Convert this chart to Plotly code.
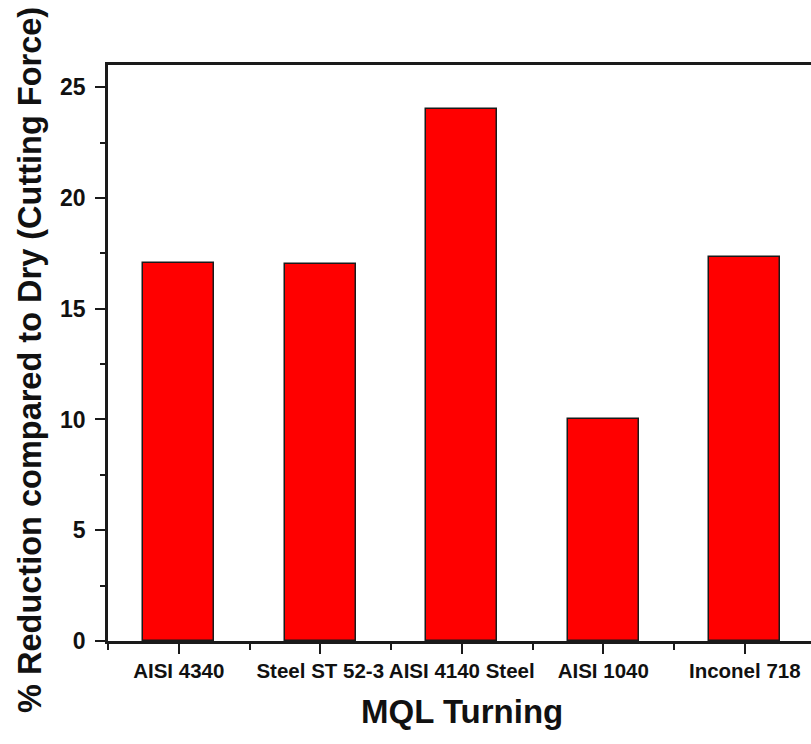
import plotly.graph_objects as go

# Percentage reduction in cutting force (MQL vs. dry turning)
materials = ["AISI 4340", "Steel ST 52-3", "AISI 4140 Steel", "AISI 1040", "Inconel 718"]
reduction = [17.05, 17.0, 24.0, 10.0, 17.35]
y_ticks = [0, 5, 10, 15, 20, 25]

positions = list(range(len(materials)))

FONT = "Liberation Sans, Arial, sans-serif"
INK = "#111111"
LINE = "#1a1a1a"

fig = go.Figure()
fig.add_trace(go.Bar(
    x=positions,
    y=reduction,
    width=0.5,
    marker=dict(color="#ff0000", line=dict(color=LINE, width=1.5)),
    showlegend=False,
))

fig.update_layout(
    width=811,
    height=744,
    margin=dict(l=108, r=0, t=65, b=103),
    paper_bgcolor="white",
    plot_bgcolor="white",
    font=dict(family=FONT, color=INK),
    bargap=0,
)

fig.update_xaxes(
    range=[-0.5, 4.468],
    tickmode="array",
    tickvals=positions,
    ticktext=materials,
    ticks="outside",
    ticklen=10,
    tickwidth=2,
    tickcolor=LINE,
    tickfont=dict(family=FONT, size=20.5, weight="bold", color=INK),
    minor=dict(
        tickmode="array",
        tickvals=[p - 0.5 for p in positions] + [4.5],
        ticks="outside",
        ticklen=6,
        tickwidth=2,
        tickcolor=LINE,
    ),
    showline=True,
    linecolor=LINE,
    linewidth=2.5,
    mirror=True,
    showgrid=False,
    zeroline=False,
    fixedrange=True,
)

fig.update_yaxes(
    range=[0, 26],
    tickmode="array",
    tickvals=y_ticks,
    ticktext=[str(v) for v in y_ticks],
    ticks="outside",
    ticklen=10,
    tickwidth=2,
    tickcolor=LINE,
    tickfont=dict(family=FONT, size=23, weight="bold", color=INK),
    ticklabelstandoff=5,
    minor=dict(
        tickmode="array",
        tickvals=[2.5, 7.5, 12.5, 17.5, 22.5],
        ticks="outside",
        ticklen=5,
        tickwidth=2,
        tickcolor=LINE,
    ),
    showline=True,
    linecolor=LINE,
    linewidth=2.5,
    mirror=False,
    showgrid=False,
    zeroline=False,
    fixedrange=True,
)

# Axis titles
fig.add_annotation(
    text="MQL Turning",
    xref="paper", yref="paper",
    x=0.5036, y=-0.123,
    xanchor="center", yanchor="middle",
    showarrow=False,
    font=dict(family=FONT, size=33, weight="bold", color=INK),
)
fig.add_annotation(
    text="% Reduction compared to Dry (Cutting Force)",
    xref="paper", yref="paper",
    x=-0.111, y=0.488,
    xanchor="center", yanchor="middle",
    textangle=-90,
    showarrow=False,
    font=dict(family=FONT, size=32.5, weight="bold", color=INK),
)

fig.write_html("out.html")
